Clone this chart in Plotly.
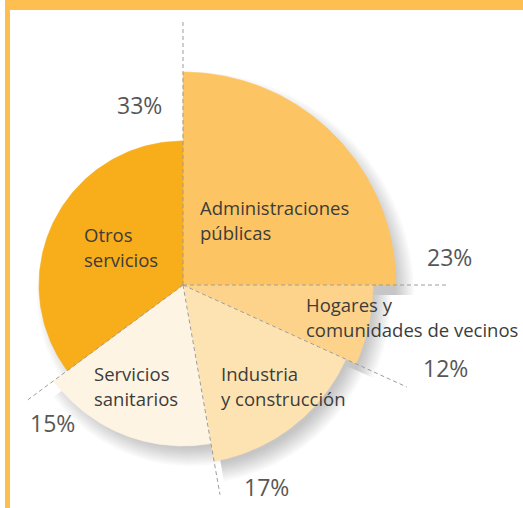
import numpy as np
import plotly.graph_objects as go

# ---------------- data ----------------
categorias = ["Administraciones<br>públicas",
              "Hogares y<br>comunidades de vecinos",
              "Industria<br>y construcción",
              "Servicios<br>sanitarios",
              "Otros<br>servicios"]
porcentajes = [23, 12, 17, 15, 33]
# angular opening of each sector (degrees, clockwise from 12 o'clock), as drawn
apertura = [90, 24.5, 55.5, 63.5, 126.5]
# relative radius of each sector, as drawn
radio = [213, 190, 179, 161, 144]

# ---------------- styles / layout ----------------
colores = ["#FCC462", "#FDD38C", "#FEE3B2", "#FEF4E3", "#F8AD1B"]
W, H = 523, 508
CX, CY = 183, 285          # pie centre in pixels (from top-left)
FONT = "Open Sans"

def px(x, y):
    """pixel (from top-left) -> data coords"""
    return x - CX, CY - y

def arc(r, a0, a1, n=120):
    t = np.radians(np.linspace(a0, a1, n))
    return r * np.sin(t), r * np.cos(t)

inicio = np.concatenate([[0], np.cumsum(apertura)[:-1]])
fin = np.cumsum(apertura)

fig = go.Figure()

# soft drop shadow (stacked translucent outlines)
for s in np.linspace(-8, 10, 10):
    xs, ys = [], []
    for a0, a1, r in zip(inicio, fin, radio):
        x, y = arc(r + s, a0, a1)
        xs.extend(x); ys.extend(y)
    fig.add_trace(go.Scatter(x=np.array(xs) + 8, y=np.array(ys) - 10, mode="lines",
                             fill="toself", fillcolor="rgba(0,0,0,0.022)",
                             line=dict(width=0), hoverinfo="skip", showlegend=False))

# sectors
for cat, p, a0, a1, r, c in zip(categorias, porcentajes, inicio, fin, radio, colores):
    x, y = arc(r, a0, a1)
    fig.add_trace(go.Scatter(x=np.concatenate([[0], x, [0]]), y=np.concatenate([[0], y, [0]]),
                             mode="lines", fill="toself", fillcolor=c,
                             line=dict(width=0.6, color=c), name=cat.replace("<br>", " "),
                             hoverinfo="name", showlegend=False))

# dashed guide lines along sector boundaries
largo_guia = [266, 264, 246, 213, 194]
for a, L in zip(inicio, largo_guia):
    t = np.radians(a)
    fig.add_trace(go.Scatter(x=[0, L * np.sin(t)], y=[0, L * np.cos(t)], mode="lines",
                             line=dict(color="#9D9D9C", width=1, dash="4px,3px"),
                             hoverinfo="skip", showlegend=False))

# percentage labels
pos_pct = [(449, 257), (445.5, 368), (266, 487), (52, 423), (139.5, 105)]
for p, (x, y) in zip(porcentajes, pos_pct):
    dx, dy = px(x, y)
    fig.add_annotation(x=dx, y=dy, text=f"{p}%", showarrow=False, xanchor="center", yanchor="middle",
                       font=dict(family=FONT, size=23, color="#575756"))

# category labels (one annotation per line)
pos_cat = [(198, 214), (304, 311.5), (219, 380), (92, 380), (82, 241.5)]
for cat, (x, y) in zip(categorias, pos_cat):
    for i, linea in enumerate(cat.split("<br>")):
        dx, dy = px(x, y + i * 25 - 7)
        fig.add_annotation(x=dx, y=dy, text=linea, showarrow=False, xanchor="left", yanchor="middle",
                           font=dict(family=FONT, size=18.5, color="#3C3C3B"))

# orange frame
fig.add_shape(type="rect", xref="paper", yref="paper", x0=5 / W, x1=1, y0=1 - 10 / H, y1=1,
              fillcolor="#FEBE50", line=dict(width=0))
fig.add_shape(type="rect", xref="paper", yref="paper", x0=5 / W, x1=10 / W, y0=0, y1=1,
              fillcolor="#FEBE50", line=dict(width=0))

fig.update_layout(width=W, height=H, autosize=False,
                  margin=dict(l=0, r=0, t=0, b=0),
                  paper_bgcolor="white", plot_bgcolor="white",
                  xaxis=dict(range=[-CX, W - CX], visible=False, fixedrange=True),
                  yaxis=dict(range=[CY - H, CY], visible=False, fixedrange=True),
                  showlegend=False)

fig.write_html("out.html", config={"displayModeBar": False},
               post_script="document.body.style.margin='0';document.body.style.overflow='hidden';")
